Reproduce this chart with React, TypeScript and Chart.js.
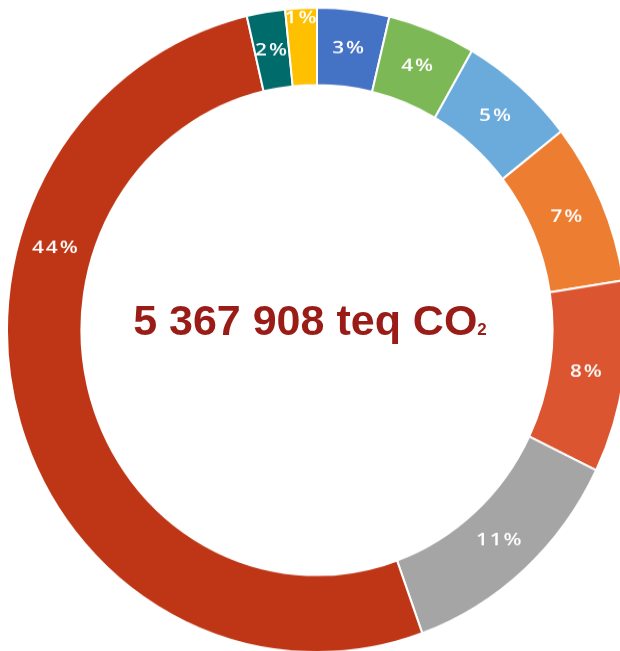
import { useEffect, useRef } from "react"
import { Chart, registerables } from "chart.js"

Chart.register(...registerables)

// Segment data (share of the total, clockwise from 12 o'clock)
const categories = [
  "Poste 1",
  "Poste 2",
  "Poste 3",
  "Poste 4",
  "Poste 5",
  "Poste 6",
  "Poste 7",
  "Poste 8",
  "Poste 9",
]
const shares = [3.2, 3.9, 5.2, 6.9, 8.2, 10.5, 44.2, 1.7, 1.4]
const colors = [
  "#4472C4",
  "#7DB856",
  "#6AABDC",
  "#ED7D31",
  "#DB5531",
  "#A5A5A5",
  "#BE3616",
  "#006B6B",
  "#FFC000",
]
const totalLabel = "5 367 908 teq CO"

// where along the arc each label sits (0.5 = middle) and how far out
const labelAngleFrac = [0.5, 0.5, 0.5, 0.5, 0.5, 0.5, 0.678, 0.5, 0.5]
const labelRadiusFactor = [1, 1, 1, 1, 1, 1, 1, 1, 1.1]

const percentLabels = {
  id: "percentLabels",
  afterDatasetsDraw(chart: Chart) {
    const { ctx } = chart
    const meta = chart.getDatasetMeta(0)
    ctx.save()
    ctx.fillStyle = "#ffffff"
    ctx.font = "600 16px 'Open Sans', 'DejaVu Sans'"
    ctx.textAlign = "center"
    ctx.textBaseline = "middle"
    ;(ctx as any).letterSpacing = "1.5px"
    meta.data.forEach((arc: any, i: number) => {
      const { x, y, startAngle, endAngle, innerRadius, outerRadius } = arc.getProps(
        ["x", "y", "startAngle", "endAngle", "innerRadius", "outerRadius"],
        true
      )
      const a = startAngle + (endAngle - startAngle) * labelAngleFrac[i]
      const r = ((innerRadius + outerRadius) / 2) * labelRadiusFactor[i]
      const px = x + Math.cos(a) * r
      const py = y + Math.sin(a) * r
      ctx.save()
      ctx.translate(px, py)
      ctx.scale(1.3, 1)
      ctx.fillText(Math.round(shares[i]) + "%", 0, 0)
      ctx.restore()
    })
    ctx.restore()
  },
}

function DoughnutChart() {
  const chartRef = useRef<HTMLCanvasElement>(null)
  const chartInstance = useRef<Chart | null>(null)

  useEffect(() => {
    if (!chartRef.current) return
    if (chartInstance.current) {
      chartInstance.current.destroy()
    }
    const ctx = chartRef.current.getContext("2d")
    if (!ctx) return

    chartInstance.current = new Chart(ctx, {
      type: "doughnut",
      data: {
        labels: categories,
        datasets: [
          {
            data: shares,
            backgroundColor: colors,
            borderColor: "#ffffff",
            borderWidth: 2,
          },
        ],
      },
      options: {
        responsive: false,
        animation: false,
        cutout: "76%",
        layout: { padding: 0 },
        plugins: {
          legend: { display: false },
          tooltip: { enabled: false },
        },
      },
      plugins: [percentLabels],
    })

    return () => {
      if (chartInstance.current) {
        chartInstance.current.destroy()
        chartInstance.current = null
      }
    }
  }, [])

  return (
    <div
      style={{
        position: "absolute",
        left: 6,
        top: 19,
        width: 622,
        height: 622,
        transform: "scaleY(1.04)",
        transformOrigin: "center",
      }}
    >
      <canvas ref={chartRef} width={622} height={622} style={{ width: 622, height: 622 }} />
    </div>
  )
}

export default function App() {
  return (
    <div
      style={{
        position: "fixed",
        left: 0,
        top: 0,
        width: 620,
        height: 651,
        overflow: "hidden",
        background: "#ffffff",
      }}
    >
      <DoughnutChart />
      <div
        style={{
          position: "absolute",
          left: 0,
          top: 299,
          width: 620,
          textAlign: "center",
          fontFamily: "'Liberation Sans', Arial, sans-serif",
          fontWeight: "bold",
          fontSize: 43,
          lineHeight: "43px",
          color: "#9A1C17",
          whiteSpace: "nowrap",
        }}
      >
        {totalLabel}
        <span style={{ fontSize: 17 }}>2</span>
      </div>
    </div>
  )
}
